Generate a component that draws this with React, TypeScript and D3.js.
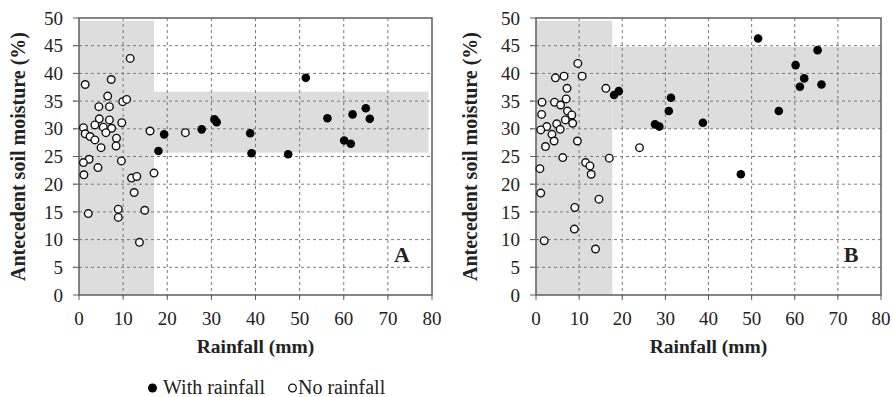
import * as d3 from "d3";

// ── Layout ────────────────────────────────────────────────
const W = 893;
const H = 397;
const TOP = 18;
const BOTTOM = 295;
const FONT = "Liberation Serif, Tinos, Times New Roman, DejaVu Serif, Noto Serif, serif";

// ── Ticks ─────────────────────────────────────────────────
const xTicks = [0, 10, 20, 30, 40, 50, 60, 70, 80];
const yTicks = [0, 5, 10, 15, 20, 25, 30, 35, 40, 45, 50];

// ── Panel A data: [rainfall mm, soil moisture %] ──────────
const aWithRain: [number, number][] = [
  [19.3, 29.0], [18.0, 26.0], [27.8, 29.9], [30.7, 31.7], [31.2, 31.2],
  [38.8, 29.2], [39.1, 25.6], [51.4, 39.2], [47.4, 25.4], [56.3, 31.9],
  [62.0, 32.6], [65.0, 33.7], [65.9, 31.8], [60.1, 27.9], [61.6, 27.3],
];
const aNoRain: [number, number][] = [
  [11.6, 42.7], [1.4, 38.0], [7.3, 38.9], [6.5, 35.9], [4.5, 34.0],
  [6.9, 34.0], [9.9, 34.9], [10.8, 35.3], [4.6, 31.8], [6.9, 31.6],
  [3.6, 30.7], [9.7, 31.1], [1.0, 30.2], [5.5, 30.3], [7.4, 30.1],
  [6.1, 29.3], [1.4, 29.1], [2.5, 28.6], [3.6, 28.0], [8.5, 28.3],
  [8.4, 26.9], [5.0, 26.6], [16.1, 29.6], [9.6, 24.2], [2.3, 24.5],
  [1.0, 23.9], [4.3, 23.0], [1.1, 21.7], [17.0, 22.0], [11.9, 21.1],
  [13.1, 21.4], [12.5, 18.5], [2.1, 14.7], [8.9, 15.5], [8.9, 14.0],
  [14.9, 15.3], [13.7, 9.5], [24.1, 29.3],
];

// ── Panel B data ──────────────────────────────────────────
const bWithRain: [number, number][] = [
  [18.1, 36.1], [19.2, 36.8], [31.3, 35.6], [30.8, 33.2], [27.6, 30.8],
  [28.6, 30.4], [38.7, 31.1], [51.5, 46.3], [65.3, 44.2], [60.2, 41.5],
  [62.2, 39.1], [61.2, 37.6], [66.2, 38.0], [56.3, 33.2], [47.5, 21.8],
];
const bNoRain: [number, number][] = [
  [9.7, 41.8], [10.7, 39.5], [4.5, 39.2], [6.5, 39.5], [7.2, 37.3],
  [7.0, 35.4], [1.4, 34.8], [4.3, 34.8], [5.7, 34.3], [1.3, 32.6],
  [7.3, 33.2], [8.3, 32.5], [4.8, 30.9], [6.8, 31.6], [8.5, 31.0],
  [2.5, 30.4], [1.1, 29.8], [5.6, 29.9], [3.7, 29.0], [4.2, 27.8],
  [2.2, 26.8], [9.6, 27.8], [16.2, 37.3], [6.2, 24.8], [17.0, 24.7],
  [24.0, 26.6], [0.9, 22.8], [11.5, 23.9], [12.5, 23.3], [12.8, 21.8],
  [1.1, 18.4], [14.6, 17.3], [9.0, 15.8], [8.9, 11.9], [1.9, 9.8],
  [13.8, 8.3],
];

// ── Shaded zones: [x0, x1, y0, y1] in data units ──────────
const aZones = [[0, 17, 0, 49.5], [17, 79.2, 25.7, 36.7]];
const bZones = [[0, 17.7, 0, 49.5], [17.7, 80, 30, 44.8]];

const panels = [
  { id: "A", left: 79, right: 432, rain: aWithRain, dry: aNoRain, zones: aZones, titleX: 25 },
  { id: "B", left: 536, right: 881, rain: bWithRain, dry: bNoRain, zones: bZones, titleX: 477 },
];

const yScale = d3.scaleLinear().domain([0, 50]).range([BOTTOM, TOP]);

function Panel({ p }: { p: typeof panels[number] }) {
  const x = d3.scaleLinear().domain([0, 80]).range([p.left, p.right]);
  const midY = (TOP + BOTTOM) / 2;
  return (
    <g>
      {/* shaded zones */}
      {p.zones.map((z, i) => (
        <rect key={i}
          x={x(z[0])} y={yScale(z[3])}
          width={x(z[1]) - x(z[0])} height={yScale(z[2]) - yScale(z[3])}
          fill="#dddddd" />
      ))}

      {/* dashed grid */}
      {yTicks.filter(t => t > 0 && t < 50).map(t => (
        <line key={"gy" + t} x1={p.left - 6} x2={p.right} y1={yScale(t)} y2={yScale(t)}
          stroke="#7a7a7a" strokeWidth={1} strokeDasharray="3 3" />
      ))}
      {xTicks.filter(t => t > 0 && t < 80).map(t => (
        <line key={"gx" + t} x1={x(t)} x2={x(t)} y1={TOP} y2={BOTTOM + 5}
          stroke="#7a7a7a" strokeWidth={1} strokeDasharray="3 3" />
      ))}

      {/* frame + tick marks */}
      <rect x={p.left} y={TOP} width={p.right - p.left} height={BOTTOM - TOP}
        fill="none" stroke="#5e5e5e" strokeWidth={1.5} />
      {yTicks.map(t => (
        <line key={"ty" + t} x1={p.left - 6} x2={p.left} y1={yScale(t)} y2={yScale(t)}
          stroke="#5e5e5e" strokeWidth={1} />
      ))}
      {xTicks.map(t => (
        <line key={"tx" + t} x1={x(t)} x2={x(t)} y1={BOTTOM} y2={BOTTOM + 5}
          stroke="#5e5e5e" strokeWidth={1} />
      ))}

      {/* tick labels */}
      {yTicks.map(t => (
        <text key={"ly" + t} x={p.left - 16} y={yScale(t)} dy="0.35em"
          textAnchor="end" fontSize={19} fontFamily={FONT} fill="#222">{t}</text>
      ))}
      {xTicks.map(t => (
        <text key={"lx" + t} x={x(t)} y={325}
          textAnchor="middle" fontSize={19} fontFamily={FONT} fill="#222">{t}</text>
      ))}

      {/* axis titles */}
      <text x={(p.left + p.right) / 2} y={353} textAnchor="middle"
        fontSize={19.5} fontWeight={700} fontFamily={FONT} fill="#222">Rainfall (mm)</text>
      <text transform={`translate(${p.titleX},${midY}) rotate(-90)`} textAnchor="middle"
        fontSize={20} fontWeight={700} fontFamily={FONT} fill="#222">Antecedent soil moisture (%)</text>

      {/* points */}
      {p.dry.map((d, i) => (
        <circle key={"d" + i} cx={x(d[0])} cy={yScale(d[1])} r={3.8}
          fill="#fff" stroke="#111" strokeWidth={1.4} />
      ))}
      {p.rain.map((d, i) => (
        <circle key={"r" + i} cx={x(d[0])} cy={yScale(d[1])} r={4.3} fill="#000" />
      ))}

      {/* panel letter */}
      <text x={p.right - 30} y={262} textAnchor="middle"
        fontSize={22} fontWeight={700} fontFamily={FONT} fill="#222">{p.id}</text>
    </g>
  );
}

export default function App() {
  return (
    <svg width={W} height={H} viewBox={`0 0 ${W} ${H}`}
      style={{ position: "absolute", left: 0, top: 0, background: "#fff" }}>
      {panels.map(p => <Panel key={p.id} p={p} />)}

      {/* legend */}
      <circle cx={152.5} cy={388} r={4.5} fill="#000" />
      <text x={163} y={394} fontSize={20} fontFamily={FONT} fill="#222">With rainfall</text>
      <circle cx={292.5} cy={388} r={3.8} fill="#fff" stroke="#111" strokeWidth={1.3} />
      <text x={298} y={394} fontSize={20} fontFamily={FONT} fill="#222">No rainfall</text>
    </svg>
  );
}
